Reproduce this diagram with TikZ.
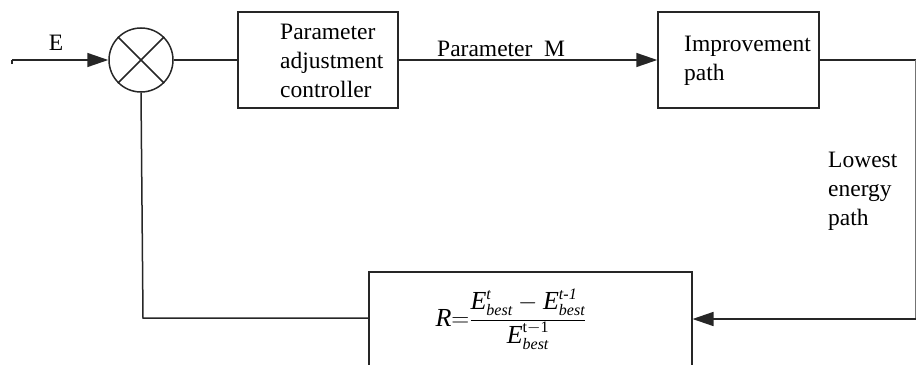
\documentclass[tikz,border=0pt]{standalone}
\usepackage{fontspec}
\setmainfont{Liberation Serif}
\usetikzlibrary{arrows.meta,positioning}

% E with super- and subscript, set in text italics
\newcommand{\Ebest}[1]{\mbox{\itshape E}^{\mbox{\fontsize{16}{16}\selectfont\itshape #1}}_{\mbox{\fontsize{16}{16}\selectfont\itshape best}}}
\newcommand{\Ebestup}[1]{\mbox{\itshape E}^{\mbox{\fontsize{16}{16}\selectfont #1}}_{\mbox{\fontsize{16}{16}\selectfont\itshape best}}}

\tikzset{
  wire/.style={line width=1.5pt, draw=black!85},
  flow/.style={wire, -{Triangle[length=21pt,width=14pt]}},
  blockbox/.style={draw=black!85, line width=1.5pt, fill=none},
  lbl/.style={font=\fontsize{23.5}{29}\selectfont, inner sep=0pt},
}

\begin{document}
\begin{tikzpicture}[x=1pt,y=-1pt]
  \useasboundingbox (0,0) rectangle (917,364);
  \clip (0,0) rectangle (917,364);

  % summing junction
  \node[circle, draw=black!85, line width=1.5pt, minimum size=64pt, inner sep=0pt] (sum) at (141,60) {};
  \draw[wire] (sum.north east) -- (sum.south west);
  \draw[wire] (sum.north west) -- (sum.south east);

  % blocks
  \node[blockbox, minimum width=160pt, minimum height=96pt, inner sep=0pt] (ctrl) at (318,60) {};
  \node[blockbox, minimum width=161pt, minimum height=96pt, inner sep=0pt] (impr) at (738.5,60) {};
  \node[blockbox, minimum width=323pt, minimum height=120pt, inner sep=0pt, anchor=north west] (ratio) at (368,271) {};

  % block texts
  \node[lbl, align=left, anchor=west] (ctrltxt) at (280,61) {Parameter\\adjustment\\controller};
  \node[lbl, align=left, anchor=north west] (imprtxt) at (684,36) {Improvement\\path};
  \node[font=\fontsize{26}{30}\selectfont, inner sep=0pt] (formula) at (511,319)
    {$\displaystyle\mbox{\itshape R}{=}\frac{\Ebest{t}-\Ebest{t-1}}{\Ebestup{t$-$1}}$};

  % signal labels
  \node[lbl] (elbl) at (56,43) {E};
  \node[lbl, anchor=west] (mlbl) at (437,49) {Parameter\ \ M};
  \node[lbl, align=left, anchor=north west] (lowlbl) at (828,152) {Lowest\\energy\\path};

  % input
  \coordinate (in) at (12,60);
  \coordinate (intick) at (12,64);
  \draw[wire] (intick) -- (in);
  \draw[flow] (in) -- (sum.west);

  % forward path
  \draw[wire] (sum.east) -- (ctrl.west);
  \draw[flow] (ctrl.east) -- (impr.west);

  % return path from the improvement block
  \coordinate (rtop) at (915.5,60);
  \coordinate (rbot) at (915.5,319);
  \draw[wire] (impr.east) -- (rtop);
  \draw[line width=1pt, draw=black!55] (rtop) -- (rbot);
  \draw[flow] (rbot) -- (ratio.east |- rbot);

  % feedback to the summing junction
  \coordinate (fbcorner) at (143,318);
  \draw[wire] (ratio.west |- fbcorner) -- (fbcorner) -- (sum.south);
\end{tikzpicture}
\end{document}
